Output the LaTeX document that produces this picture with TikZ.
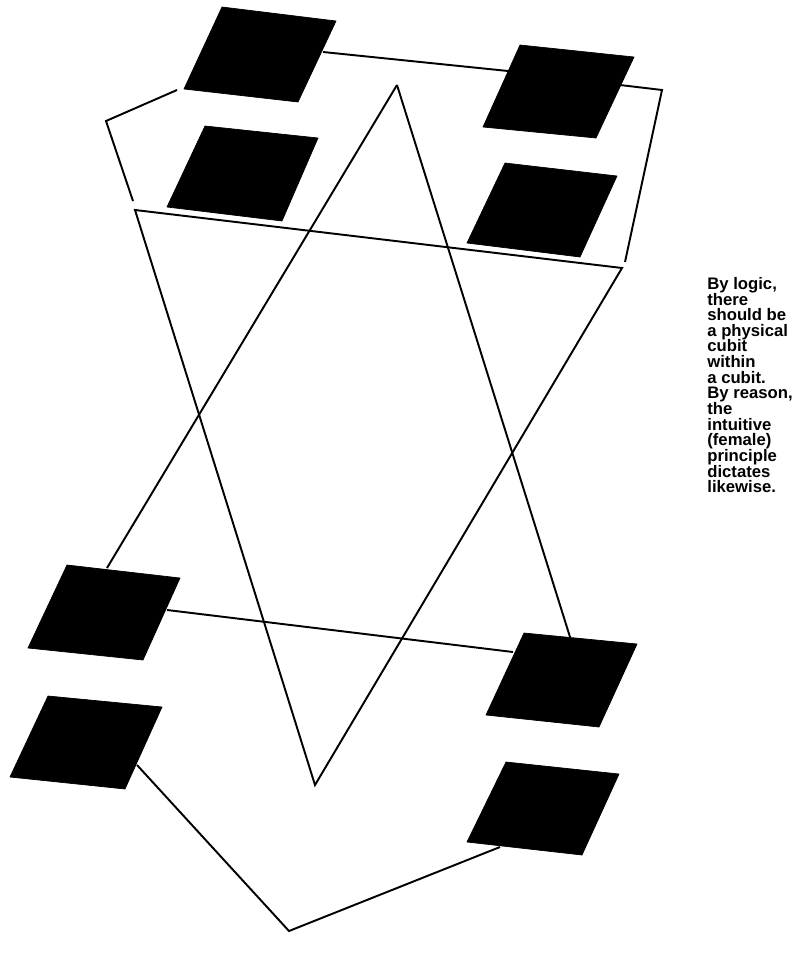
\documentclass[tikz,border=0pt]{standalone}
\usepackage{fontspec}
\setmainfont{Liberation Sans}
\usetikzlibrary{calc}
\tikzset{
    pad/.style={fill=black, draw=black, line width=0.4pt, line join=round},
    wire/.style={line width=1.1pt, black, line join=miter},
    notetext/.style={font=\fontsize{9.5}{8.9}\selectfont\bfseries, align=left, anchor=north west, inner sep=0pt}
}

\begin{document}
\begin{tikzpicture}[x=0.02cm, y=-0.02cm]
        \useasboundingbox (0,0) rectangle (797,963);

        % end points of the lines
        \path
        (397,85)  coordinate (apex)
        (107,568) coordinate (upL)
        (570,637) coordinate (upR)
        (167,610) coordinate (baseL)
        (513,652) coordinate (baseR)
        (135,210) coordinate (dnL)
        (622,268) coordinate (dnR)
        (315,785) coordinate (dnB)
        (323,52)  coordinate (topA)
        (508,71)  coordinate (topB)
        (620,85)  coordinate (topC)
        (662,90)  coordinate (topD)
        (625,262) coordinate (topE)
        (177,90)  coordinate (lftA)
        (106,121) coordinate (lftB)
        (133,201) coordinate (lftC)
        (137,765) coordinate (botA)
        (289,931) coordinate (botB)
        (500,847) coordinate (botC)
        ;

        % the two triangles
        \draw[wire] (apex) -- (upL);
        \draw[wire] (apex) -- (upR);
        \draw[wire] (baseL) -- (baseR);
        \draw[wire] (dnL) -- (dnR) -- (dnB) -- cycle;

        % outer lines
        \draw[wire] (topA) -- (topB);
        \draw[wire] (topC) -- (topD) -- (topE);
        \draw[wire] (lftA) -- (lftB) -- (lftC);
        \draw[wire] (botA) -- (botB) -- (botC);

        % black squares
        \path[pad] (222,7) -- (336,21) -- (298,102) -- (184,89) -- cycle;
        \path[pad] (205,126) -- (318,138) -- (282,221) -- (167,207) -- cycle;
        \path[pad] (520,45) -- (634,57) -- (596,138) -- (483,127) -- cycle;
        \path[pad] (505,163) -- (617,176) -- (580,257) -- (467,243) -- cycle;
        \path[pad] (67,565) -- (180,578) -- (143,660) -- (28,648) -- cycle;
        \path[pad] (48,696) -- (162,707) -- (125,789) -- (10,777) -- cycle;
        \path[pad] (524,633) -- (637,644) -- (599,727) -- (486,715) -- cycle;
        \path[pad] (506,762) -- (619,774) -- (582,855) -- (467,842) -- cycle;

        \node[notetext] (note) at (707,277) {By logic,\\there\\should be\\a physical\\cubit\\within\\a cubit.\\By reason,\\the\\intuitive\\(female)\\principle\\dictates\\likewise.};

\end{tikzpicture}
\end{document}
